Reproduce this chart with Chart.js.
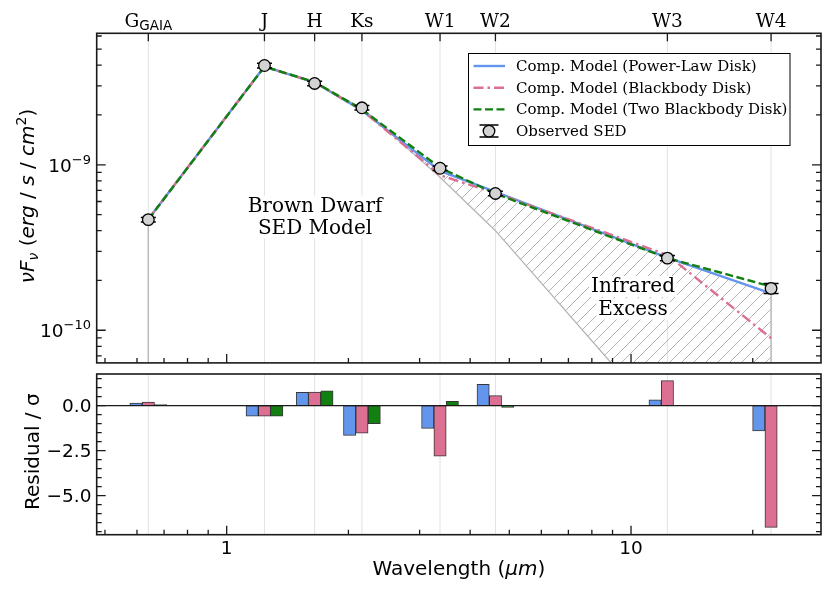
<!DOCTYPE html>
<html>
<head>
<meta charset="utf-8">
<script src="https://cdn.jsdelivr.net/npm/chart.js@4.4.0/dist/chart.umd.min.js"></script>
<style>
    html, body { margin: 0; padding: 0; background: #fff; }
    #wrap { position: relative; width: 830px; height: 593px; }
    #top { position: absolute; left: 0; top: 0; }
    #bot { position: absolute; left: 0; top: 370px; }
</style>
</head>
<body>
<div id="wrap">
    <canvas id="top" width="830" height="370"></canvas>
    <canvas id="bot" width="830" height="223"></canvas>
</div>
<script>
// photometric bands
const bandLabels = ['G', 'J', 'H', 'Ks', 'W1', 'W2', 'W3', 'W4'];
const bandSubscripts = ['GAIA', '', '', '', '', '', '', ''];
const wavelengths = [0.64, 1.24, 1.65, 2.16, 3.37, 4.62, 12.3, 22.2];

// SED (erg / s / cm^2)
const observedFlux = [4.66e-10, 3.98e-9, 3.10e-9, 2.21e-9, 9.53e-10, 6.71e-10, 2.73e-10, 1.79e-10];
const observedErr = [1.5e-11, 1.3e-10, 1.0e-10, 7.0e-11, 3.0e-11, 2.1e-11, 1.0e-11, 1.25e-11];
const photosphereFlux = [4.66e-10, 3.98e-9, 3.10e-9, 2.21e-9, 8.41e-10, 4.0e-10, 2.6e-11, 5.0e-12];
const powerLawFlux = [4.68e-10, 3.92e-9, 3.15e-9, 2.13e-9, 9.18e-10, 6.85e-10, 2.75e-10, 1.67e-10];
const blackbodyFlux = [4.69e-10, 3.92e-9, 3.15e-9, 2.14e-9, 8.65e-10, 6.75e-10, 2.85e-10, 8.95e-11];
const twoBlackbodyFlux = [4.67e-10, 3.92e-9, 3.16e-9, 2.16e-9, 9.60e-10, 6.69e-10, 2.73e-10, 1.84e-10];

// residuals / sigma
const residualPowerLaw = [0.15, -0.59, 0.74, -1.65, -1.26, 1.19, 0.33, -1.40];
const residualBlackbody = [0.20, -0.59, 0.76, -1.53, -2.81, 0.56, 1.39, -6.76];
const residualTwoBlackbody = [0.06, -0.59, 0.82, -1.00, 0.24, -0.10, 0.02, -0.02];

// axes
const xMin = 0.477, xMax = 29.5;
const yTopMin = 6.35e-11, yTopMax = 6.23e-9;
const yBotMin = -7.17, yBotMax = 1.76;
const xMajorTicks = [1, 10];
const yTopMajorTicks = [1e-10, 1e-9];
const yTopTickLabels = [['10', '\u221210'], ['10', '\u22129']];
const yBotMajorTicks = [-5, -2.5, 0];
const yBotTickLabels = ['\u22125.0', '\u22122.5', '0.0'];

const BLUE = '#6495ED', PINK = '#DB7093', GREEN = '#118011', GRAY = '#b8b8b8';
const SANS = '"DejaVu Sans", sans-serif';
const SERIF = '"DejaVu Serif", serif';
const LW = 2.4;

function pts(ys) {
    return wavelengths.map((w, i) => ({ x: w, y: ys[i] }));
}

function logMinor(min, max) {
    const out = [];
    for (let e = Math.floor(Math.log10(min)); e <= Math.ceil(Math.log10(max)); e++) {
        for (let k = 2; k <= 9; k++) {
            const v = k * Math.pow(10, e);
            if (v > min && v < max) out.push(v);
        }
    }
    return out;
}

function drawRuns(ctx, runs, x, y, align) {
    let total = 0;
    runs.forEach(r => { ctx.font = r.font; r.w = ctx.measureText(r.text).width; total += r.w; });
    let cx = align === 'center' ? x - total / 2 : align === 'right' ? x - total : x;
    ctx.textAlign = 'left';
    runs.forEach(r => {
        ctx.font = r.font;
        ctx.fillText(r.text, cx, y + (r.dy || 0));
        cx += r.w;
    });
    return total;
}

function tickMarks(ctx, area, scale, values, len, side) {
    ctx.beginPath();
    values.forEach(v => {
        const p = scale.getPixelForValue(v);
        if (side === 'left') { ctx.moveTo(area.left, p); ctx.lineTo(area.left + len, p); }
        if (side === 'right') { ctx.moveTo(area.right, p); ctx.lineTo(area.right - len, p); }
        if (side === 'bottom') { ctx.moveTo(p, area.bottom); ctx.lineTo(p, area.bottom - len); }
        if (side === 'top') { ctx.moveTo(p, area.top); ctx.lineTo(p, area.top + len); }
    });
    ctx.stroke();
}

function bandGrid(chart) {
    const ctx = chart.ctx, a = chart.chartArea, xs = chart.scales.x;
    ctx.save();
    ctx.strokeStyle = '#e2e2e2';
    ctx.lineWidth = 1;
    ctx.beginPath();
    wavelengths.forEach(w => {
        const p = xs.getPixelForValue(w);
        ctx.moveTo(p, a.top); ctx.lineTo(p, a.bottom);
    });
    ctx.stroke();
    ctx.restore();
}

function frameAndXTicks(chart) {
    const ctx = chart.ctx, a = chart.chartArea, xs = chart.scales.x;
    ctx.strokeStyle = '#1a1a1a';
    ctx.lineWidth = 1.3;
    tickMarks(ctx, a, xs, xMajorTicks, 9, 'bottom');
    tickMarks(ctx, a, xs, logMinor(xMin, xMax), 5, 'bottom');
    ctx.lineWidth = 1.6;
    ctx.strokeRect(a.left, a.top, a.right - a.left, a.bottom - a.top);
}

// hatch pattern for the infrared excess
function hatch(ctx) {
    const c = document.createElement('canvas');
    c.width = 12; c.height = 12;
    const g = c.getContext('2d');
    g.strokeStyle = '#b4b4b4';
    g.lineWidth = 1;
    g.beginPath();
    g.moveTo(0, 12); g.lineTo(12, 0);
    g.moveTo(-6, 6); g.lineTo(6, -6);
    g.moveTo(6, 18); g.lineTo(18, 6);
    g.stroke();
    return ctx.createPattern(c, 'repeat');
}

const topCanvas = document.getElementById('top');
const topCtx = topCanvas.getContext('2d');

const legendItems = [
    { label: 'Comp. Model (Power-Law Disk)', color: BLUE, dash: [] },
    { label: 'Comp. Model (Blackbody Disk)', color: PINK, dash: [10, 4, 2.5, 4] },
    { label: 'Comp. Model (Two Blackbody Disk)', color: GREEN, dash: [8, 3.5] },
    { label: 'Observed SED', marker: true }
];

const topDecor = {
    id: 'topDecor',
    beforeDatasetsDraw(chart) {
        bandGrid(chart);
    },
    afterDatasetDraw(chart, args) {
        // error bars go under the observed markers
        if (args.index !== 3) return;
        const ctx = chart.ctx, xs = chart.scales.x, ys = chart.scales.y;
        ctx.save();
        ctx.strokeStyle = '#000';
        ctx.lineWidth = 1.5;
        ctx.beginPath();
        wavelengths.forEach((w, i) => {
            const px = xs.getPixelForValue(w);
            const y1 = ys.getPixelForValue(observedFlux[i] + observedErr[i]);
            const y2 = ys.getPixelForValue(observedFlux[i] - observedErr[i]);
            ctx.moveTo(px, y1); ctx.lineTo(px, y2);
            ctx.moveTo(px - 7.5, y1); ctx.lineTo(px + 7.5, y1);
            ctx.moveTo(px - 7.5, y2); ctx.lineTo(px + 7.5, y2);
        });
        ctx.stroke();
        ctx.restore();
    },
    afterDraw(chart) {
        const ctx = chart.ctx, a = chart.chartArea, xs = chart.scales.x, ys = chart.scales.y;
        ctx.save();
        ctx.fillStyle = '#000';

        // annotations
        ctx.textBaseline = 'alphabetic';
        const notes = [
            { text: 'Brown Dwarf', x: 315, y: 211.5 },
            { text: 'SED Model', x: 315, y: 233.5 },
            { text: 'Infrared', x: 633, y: 292 },
            { text: 'Excess', x: 633, y: 314.5 }
        ];
        ctx.font = '20px ' + SERIF;
        notes.forEach(n => {
            const w = ctx.measureText(n.text).width;
            ctx.fillStyle = '#fff';
            ctx.fillRect(n.x - w / 2 - 2, n.y - 16, w + 4, 21);
        });
        ctx.fillStyle = '#000';
        ctx.textAlign = 'center';
        notes.forEach(n => ctx.fillText(n.text, n.x, n.y));

        frameAndXTicks(chart);
        ctx.lineWidth = 1.3;
        tickMarks(ctx, a, ys, yTopMajorTicks, 9, 'left');
        tickMarks(ctx, a, ys, yTopMajorTicks, 9, 'right');
        tickMarks(ctx, a, ys, logMinor(yTopMin, yTopMax), 5, 'left');
        tickMarks(ctx, a, ys, logMinor(yTopMin, yTopMax), 5, 'right');
        tickMarks(ctx, a, xs, wavelengths, 8, 'top');

        // band labels on the top axis
        ctx.fillStyle = '#000';
        bandLabels.forEach((b, i) => {
            const px = xs.getPixelForValue(wavelengths[i]);
            const runs = [{ text: b, font: '18.5px ' + SERIF }];
            if (bandSubscripts[i]) runs.push({ text: bandSubscripts[i], font: '13.5px ' + SANS, dy: 3 });
            drawRuns(ctx, runs, px, 27, 'center');
        });

        // y tick labels
        yTopMajorTicks.forEach((v, i) => {
            const py = ys.getPixelForValue(v);
            drawRuns(ctx, [
                { text: yTopTickLabels[i][0], font: '18.5px ' + SANS },
                { text: yTopTickLabels[i][1], font: '13px ' + SANS, dy: -8 }
            ], 91, py + 7, 'right');
        });

        // y axis title
        ctx.save();
        ctx.translate(34, 196);
        ctx.rotate(-Math.PI / 2);
        const it = 'italic 20px ' + SANS, rg = '20px ' + SANS;
        drawRuns(ctx, [
            { text: '\u03bdF', font: it },
            { text: '\u03bd', font: 'italic 14px ' + SANS, dy: 4 },
            { text: ' (', font: rg },
            { text: 'erg', font: it },
            { text: ' / ', font: rg },
            { text: 's', font: it },
            { text: ' / ', font: rg },
            { text: 'cm', font: it },
            { text: '2', font: '14px ' + SANS, dy: -8 },
            { text: ')', font: rg }
        ], 0, 0, 'center');
        ctx.restore();

        // legend
        const lx = 468.5, ly = 53.5, lw = 321.5, lh = 92;
        ctx.fillStyle = '#fff';
        ctx.fillRect(lx, ly, lw, lh);
        ctx.strokeStyle = '#000';
        ctx.lineWidth = 1;
        ctx.strokeRect(lx, ly, lw, lh);
        legendItems.forEach((it2, i) => {
            const ry = 66 + i * 21.7;
            if (it2.marker) {
                ctx.strokeStyle = '#000';
                ctx.lineWidth = 1.5;
                ctx.beginPath();
                ctx.moveTo(489, ry - 6); ctx.lineTo(489, ry + 6);
                ctx.moveTo(479.5, ry - 6); ctx.lineTo(498.5, ry - 6);
                ctx.moveTo(479.5, ry + 6); ctx.lineTo(498.5, ry + 6);
                ctx.stroke();
                ctx.beginPath();
                ctx.arc(489, ry, 5.8, 0, Math.PI * 2);
                ctx.fillStyle = '#d3d3d3';
                ctx.fill();
                ctx.lineWidth = 1.3;
                ctx.stroke();
            } else {
                ctx.strokeStyle = it2.color;
                ctx.lineWidth = LW;
                ctx.setLineDash(it2.dash);
                ctx.beginPath();
                ctx.moveTo(473.5, ry); ctx.lineTo(505, ry);
                ctx.stroke();
                ctx.setLineDash([]);
            }
            ctx.fillStyle = '#000';
            ctx.font = '15px ' + SERIF;
            ctx.textAlign = 'left';
            ctx.fillText(it2.label, 516, ry + 5);
        });
        ctx.restore();
    }
};

const lastIdx = wavelengths.length - 1;

new Chart(topCanvas, {
    type: 'line',
    data: {
        datasets: [
            {
                label: 'Brown Dwarf SED Model',
                data: pts(photosphereFlux),
                borderColor: GRAY,
                borderWidth: 1.4,
                pointRadius: 0,
                fill: 1,
                backgroundColor: hatch(topCtx),
                order: 6
            },
            {
                label: legendItems[0].label,
                data: pts(powerLawFlux),
                borderColor: BLUE,
                borderWidth: LW,
                pointRadius: 0,
                order: 4
            },
            {
                label: legendItems[1].label,
                data: pts(blackbodyFlux),
                borderColor: PINK,
                borderWidth: LW,
                borderDash: legendItems[1].dash,
                pointRadius: 0,
                order: 3
            },
            {
                label: legendItems[2].label,
                data: pts(twoBlackbodyFlux),
                borderColor: GREEN,
                borderWidth: LW,
                borderDash: legendItems[2].dash,
                pointRadius: 0,
                order: 2
            },
            {
                label: 'edge left',
                data: [{ x: wavelengths[0], y: yTopMin / 10 }, { x: wavelengths[0], y: observedFlux[0] }],
                borderColor: GRAY,
                borderWidth: 1.4,
                pointRadius: 0,
                order: 5
            },
            {
                label: 'edge right',
                data: [{ x: wavelengths[lastIdx], y: yTopMin / 10 }, { x: wavelengths[lastIdx], y: powerLawFlux[lastIdx] }],
                borderColor: GRAY,
                borderWidth: 1.4,
                pointRadius: 0,
                order: 5
            },
            {
                label: 'Observed SED',
                data: pts(observedFlux),
                showLine: false,
                pointRadius: 5.8,
                pointBackgroundColor: '#d3d3d3',
                pointBorderColor: '#000',
                pointBorderWidth: 1.3,
                order: 0
            }
        ]
    },
    options: {
        responsive: false,
        animation: false,
        events: [],
        layout: { padding: { left: 96.7, right: 9, top: 33.3, bottom: 5.3 } },
        plugins: { legend: { display: false }, tooltip: { enabled: false } },
        scales: {
            x: { type: 'logarithmic', min: xMin, max: xMax, display: false },
            y: { type: 'logarithmic', min: yTopMin, max: yTopMax, display: false }
        }
    },
    plugins: [topDecor]
});

const botDecor = {
    id: 'botDecor',
    beforeDatasetsDraw(chart) {
        bandGrid(chart);
    },
    afterDatasetsDraw(chart) {
        const ctx = chart.ctx, a = chart.chartArea, xs = chart.scales.x, ys = chart.scales.y;
        ctx.save();
        // zero line
        const y0 = ys.getPixelForValue(0);
        ctx.strokeStyle = '#1a1a1a';
        ctx.lineWidth = 1.1;
        ctx.beginPath();
        ctx.moveTo(a.left, y0); ctx.lineTo(a.right, y0);
        ctx.stroke();

        frameAndXTicks(chart);
        ctx.lineWidth = 1.3;
        const minorY = [];
        for (let v = -7; v <= 1.5; v += 0.5) {
            if (v > yBotMin && v < yBotMax && yBotMajorTicks.indexOf(v) < 0) minorY.push(v);
        }
        tickMarks(ctx, a, ys, yBotMajorTicks, 9, 'left');
        tickMarks(ctx, a, ys, yBotMajorTicks, 9, 'right');
        tickMarks(ctx, a, ys, minorY, 5, 'left');
        tickMarks(ctx, a, ys, minorY, 5, 'right');

        ctx.fillStyle = '#000';
        ctx.textBaseline = 'alphabetic';
        ctx.font = '18.5px ' + SANS;
        ctx.textAlign = 'right';
        yBotMajorTicks.forEach((v, i) => {
            ctx.fillText(yBotTickLabels[i], 91.5, ys.getPixelForValue(v) + 6.8);
        });
        ctx.textAlign = 'center';
        xMajorTicks.forEach(v => {
            ctx.fillText(String(v), xs.getPixelForValue(v), 183.5);
        });

        // x title
        drawRuns(ctx, [
            { text: 'Wavelength (', font: '20px ' + SANS },
            { text: '\u03bcm', font: 'italic 20px ' + SANS },
            { text: ')', font: '20px ' + SANS }
        ], (a.left + a.right) / 2, 205, 'center');

        // y title
        ctx.translate(38.5, 81.7);
        ctx.rotate(-Math.PI / 2);
        ctx.font = '20px ' + SANS;
        ctx.textAlign = 'center';
        ctx.fillText('Residual / \u03c3', 0, 0);
        ctx.restore();
    }
};

const barStyle = { borderColor: 'rgba(20,20,20,0.85)', borderWidth: 1, barThickness: 12.3, borderSkipped: false };

new Chart(document.getElementById('bot'), {
    type: 'bar',
    data: {
        datasets: [
            Object.assign({ label: legendItems[0].label, data: pts(residualPowerLaw), backgroundColor: BLUE }, barStyle),
            Object.assign({ label: legendItems[1].label, data: pts(residualBlackbody), backgroundColor: PINK }, barStyle),
            Object.assign({ label: legendItems[2].label, data: pts(residualTwoBlackbody), backgroundColor: GREEN }, barStyle)
        ]
    },
    options: {
        responsive: false,
        animation: false,
        events: [],
        layout: { padding: { left: 96.7, right: 9, top: 4, bottom: 58.3 } },
        plugins: { legend: { display: false }, tooltip: { enabled: false } },
        scales: {
            x: { type: 'logarithmic', min: xMin, max: xMax, offset: false, display: false },
            y: { type: 'linear', min: yBotMin, max: yBotMax, display: false }
        }
    },
    plugins: [botDecor]
});
</script>
</body>
</html>
